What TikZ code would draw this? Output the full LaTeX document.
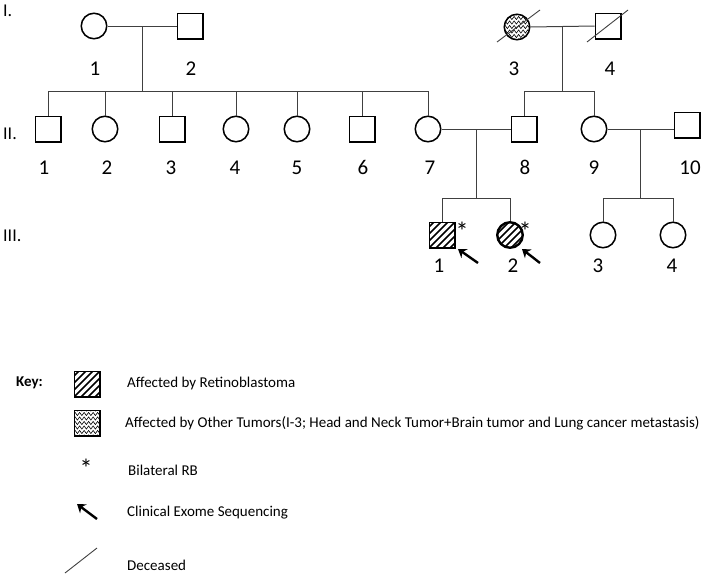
\documentclass[tikz,border=0pt]{standalone}
\usepackage{fontspec}
\setmainfont{Carlito}
\usetikzlibrary{arrows.meta,decorations.pathmorphing,calc}
\begin{document}
\begin{tikzpicture}[x=1pt,y=-1pt,
  sym/.style={draw, line width=1.5pt, inner sep=0pt, minimum size=25.5pt},
  male/.style={sym, rectangle},
  female/.style={sym, circle},
  conn/.style={draw=black!75, line width=1pt},
  num/.style={font=\fontsize{21}{24}\selectfont, inner sep=0pt, anchor=base},
  gen/.style={font=\fontsize{18}{21}\selectfont, inner sep=0pt, anchor=west},
  keytext/.style={font=\fontsize{15}{18}\selectfont, inner sep=0pt, anchor=west},
  star/.style={font=\fontsize{26}{30}\selectfont, inner sep=0pt},
  hatch/.style={path picture={\foreach \i in {-42,-35,...,42}{\draw[line width=1.7pt] ([shift={(\i-20,20)}]path picture bounding box.center) -- ++(40,-40);}}},
  zig/.style={path picture={\foreach \j in {-18,-13.5,...,18}{\draw[line width=0.6pt, decorate, decoration={zigzag,segment length=4.5pt,amplitude=1.6pt}] ([shift={(-22,\j)}]path picture bounding box.center) -- ++(44,0);}}},
  dec/.style={draw=black!75, line width=0.9pt},
  probarrow/.style={line width=2.4pt, -{Stealth[length=8pt,width=11pt]}},
]
\useasboundingbox (0,0) rectangle (709,576);

% generation labels
\node[gen] (gI) at (3,11) {I.};
\node[gen] (gII) at (3,134) {II.};
\node[gen] (gIII) at (3,236) {III.};

% generation I
\node[female] (I1) at (94,26) {};
\node[male] (I2) at (190,26) {};
\node[female, zig] (I3) at (517,27) {};
\node[male] (I4) at (608,26) {};
\node[num] (lI1) at (95,75) {1};
\node[num] (lI2) at (191,75) {2};
\node[num] (lI3) at (514,75) {3};
\node[num] (lI4) at (610,75) {4};
\draw[dec] ($(I3)+(-20,15)$) coordinate (d3a) -- ($(I3)+(23,-17)$) coordinate (d3b);
\draw[dec] ($(I4)+(-21,16)$) coordinate (d4a) -- ($(I4)+(20,-16)$) coordinate (d4b);

% generation II
\node[male] (II1) at (48,129) {};
\node[female] (II2) at (105,129) {};
\node[male] (II3) at (172,129) {};
\node[female] (II4) at (236,129) {};
\node[female] (II5) at (297,129) {};
\node[male] (II6) at (362,129) {};
\node[female] (II7) at (428,129) {};
\node[male] (II8) at (524,129) {};
\node[female] (II9) at (594,129) {};
\node[male] (II10) at (687,125) {};
\foreach \n/\x in {1/44,2/107,3/171,4/235,5/297,6/363,7/430,8/525,9/594,10/690}
  \node[num] (lII\n) at (\x,174) {\n};

% generation III
\node[male, hatch] (III1) at (442,235) {};
\node[female, hatch, line width=2.4pt] (III2) at (510,235) {};
\node[female] (III3) at (603,235) {};
\node[female] (III4) at (673,235) {};
\foreach \n/\x in {1/439,2/513,3/598,4/672}
  \node[num] (lIII\n) at (\x,272) {\n};
\node[star] (s1) at (462,231) {*};
\node[star] (s2) at (525,231) {*};
\coordinate (a1t) at (478,263);
\coordinate (a1h) at (458,249);
\coordinate (a2t) at (540,263);
\coordinate (a2h) at (522,249);
\draw[probarrow] (a1t) -- (a1h);
\draw[probarrow] (a2t) -- (a2h);

% sibship coordinates
\coordinate (sib1) at (0,91);
\coordinate (sib2) at (0,91);
\coordinate (sib3) at (0,198);
\coordinate (sib4) at (0,198);

% marriages and descents
\draw[conn] (I1.east) -- (I2.west);
\coordinate (m1) at ($(I1)!0.5!(I2)$);
\draw[conn] (m1) -- (m1 |- sib1);
\draw[conn] (II1.north |- sib1) -- (II7.north |- sib1);
\foreach \c in {II1,II2,II3,II4,II5,II6,II7}
  \draw[conn] (\c.north) -- (\c.north |- sib1);

\draw[conn] (I3.east) -- (I4.west);
\coordinate (m2) at ($(I3.east)!0.5!(I4.west)$);
\draw[conn] (m2) -- (m2 |- sib2);
\draw[conn] (II8.north |- sib2) -- (II9.north |- sib2);
\foreach \c in {II8,II9}
  \draw[conn] (\c.north) -- (\c.north |- sib2);

\draw[conn] (II7.east) -- (II8.west);
\coordinate (m3) at ($(II7)!0.5!(II8)$);
\draw[conn] (m3) -- (m3 |- sib3);
\draw[conn] (III1.north |- sib3) -- (III2.north |- sib3);
\foreach \c in {III1,III2}
  \draw[conn] (\c.north) -- (\c.north |- sib3);

\draw[conn] (II9.east) -- (II9.east -| II10.west);
\coordinate (m4) at ($(II9)!0.5!(II10)$);
\draw[conn] (m4 |- II9) -- (m4 |- sib4);
\draw[conn] (III3.north |- sib4) -- (III4.north |- sib4);
\foreach \c in {III3,III4}
  \draw[conn] (\c.north) -- (\c.north |- sib4);

% key
\node[keytext, font=\bfseries\fontsize{15}{18}\selectfont] (key) at (16,383) {Key:};
\node[male, hatch] (k1) at (87,384) {};
\node[keytext] (kt1) at (127,383) {Affected by Retinoblastoma};
\node[male, zig] (k2) at (87,423) {};
\node[keytext] (kt2) at (125,423) {Affected by Other Tumors(I-3; Head and Neck Tumor+Brain tumor and Lung cancer metastasis)};
\node[star] (k3) at (86,468) {*};
\node[keytext] (kt3) at (128,470) {Bilateral RB};
\coordinate (kat) at (97,519);
\coordinate (kah) at (77,504);
\draw[probarrow] (kat) -- (kah);
\node[keytext] (kt4) at (127,513) {Clinical Exome Sequencing};
\coordinate (kda) at (65,573);
\coordinate (kdb) at (97,548);
\draw[dec] (kda) -- (kdb);
\node[keytext] (kt5) at (127,565) {Deceased};
\end{tikzpicture}
\end{document}
